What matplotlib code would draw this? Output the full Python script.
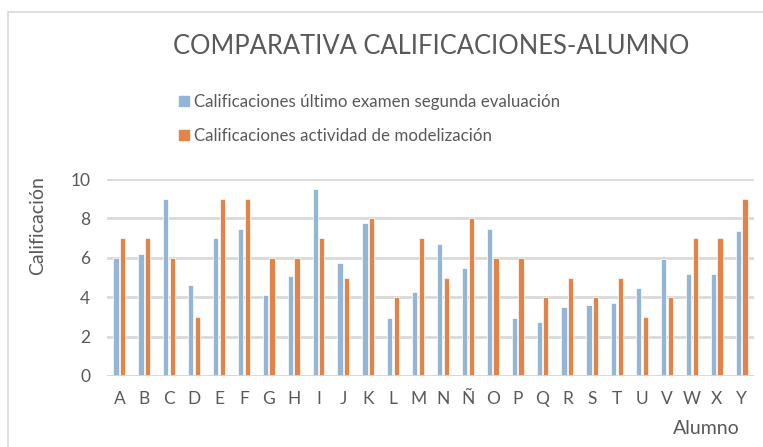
import numpy as np
import matplotlib
matplotlib.use("Agg")
import matplotlib.pyplot as plt
from matplotlib.patches import Rectangle, Patch

# Datos
alumnos = ["A", "B", "C", "D", "E", "F", "G", "H", "I", "J", "K", "L", "M",
           "N", "Ñ", "O", "P", "Q", "R", "S", "T", "U", "V", "W", "X", "Y"]
examen = [6.0, 6.2, 9.0, 4.6, 7.0, 7.45, 4.1, 5.1, 9.5, 5.75, 7.75, 2.95,
          4.25, 6.7, 5.5, 7.45, 2.95, 2.75, 3.5, 3.6, 3.7, 4.45, 5.95, 5.2,
          5.2, 7.35]
modelizacion = [7, 7, 6, 3, 9, 9, 6, 6, 7, 5, 8, 4, 7, 5, 8, 6, 6, 4, 5, 4,
                5, 3, 4, 7, 7, 9]

titulo = "COMPARATIVA CALIFICACIONES-ALUMNO"
serie1 = "Calificaciones último examen segunda evaluación"
serie2 = "Calificaciones actividad de modelización"

azul = "#94B6D6"
naranja = "#E2834A"
gris = "#595959"

plt.rcParams['font.family'] = ['Lato', 'DejaVu Sans']

fig = plt.figure(figsize=(7.63, 4.47), dpi=100)
ax = fig.add_axes([107/763, 71/447, 647/763, 197/447])

x = np.arange(len(alumnos))
w = 0.21
ax.bar(x - 0.135, examen, w, color=azul, edgecolor="white", linewidth=0.5, zorder=3)
ax.bar(x + 0.135, modelizacion, w, color=naranja, edgecolor="white", linewidth=0.5, zorder=3)

ax.set_xlim(-0.5, len(alumnos) - 0.5)
ax.set_ylim(0, 10)
ax.set_yticks(np.arange(0, 11, 2))
ax.set_xticks(x)
ax.set_xticklabels(alumnos)
ax.yaxis.grid(True, color="#D9D9D9", linewidth=2, zorder=0)
for s in ax.spines.values():
    s.set_visible(False)
ax.axhline(0, color="#D9D9D9", linewidth=2, zorder=4)
ax.tick_params(length=0, labelsize=12.5, colors=gris, pad=11)
ax.tick_params(axis="y", pad=12)

fig.text(38/763, 1 - 226/447, "Calificación", rotation=90, ha="center",
         va="center", fontsize=14, color=gris)
fig.text(706/763, 1 - 428/447, "Alumno", ha="center", va="center",
         fontsize=14, color=gris)
fig.text(431/763, 1 - 47/447, titulo, ha="center", va="center",
         fontsize=18.4, color=gris)

handles = [Patch(color=azul), Patch(color=naranja)]
leg = fig.legend(handles, [serie1, serie2], loc="upper left",
                 bbox_to_anchor=(164/763, 1 - 79/447), frameon=False,
                 fontsize=12.2, handlelength=0.55, handleheight=0.55,
                 handletextpad=0.35, labelspacing=1.05, labelcolor=gris)

fig.patches.append(Rectangle((8/763, -0.05), 1.2, 1 - 12/447 + 0.05,
                             transform=fig.transFigure, fill=False,
                             edgecolor="#D9D9D9", linewidth=1.2))

fig.savefig("out.png", dpi=100)
